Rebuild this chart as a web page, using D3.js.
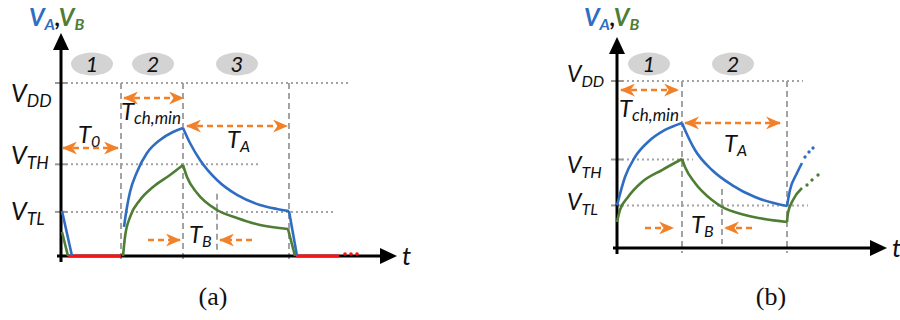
<!DOCTYPE html>
<html><head><meta charset="utf-8">
<script src="https://cdn.jsdelivr.net/npm/d3@7"></script>
<style>body{margin:0;background:#fff}svg{display:block}</style>
</head><body><svg id="c" width="900" height="320"></svg>
<script>
// ---------- data (time in arbitrary units, voltage normalised to VDD = 1) ----------
const levelNames = ["DD", "TH", "TL"];
const levelValues = [1, 0.53, 0.255];
const phaseLabelsA = ["1", "2", "3"];
const phaseTimesA = [3.1, 9.2, 17.6];
const phaseLabelsB = ["1", "2"];
const phaseTimesB = [3.2, 11.6];
const boundariesA = [6.0, 12.2, 22.8];
const boundariesB = [6.5, 17.0];
const tbMarkA = 15.6;
const tbMarkB = 10.5;

// panel (a) curves
const aBlue = [
  [[0.1, 0.26], [1.1, 0]],
  [[6.3, 0.168], [6.6, 0.283], [6.9, 0.370], [7.6, 0.486], [8.6, 0.595], [9.9, 0.671], [11.2, 0.717], [12.2, 0.740]],
  [[12.2, 0.740], [12.9, 0.653], [13.9, 0.555], [15.6, 0.439], [17.6, 0.353], [19.9, 0.295], [21.6, 0.272], [22.8, 0.260]],
  [[22.8, 0.26], [23.6, 0]]
];
const aGreen = [
  [[0.1, 0.139], [0.7, 0]],
  [[6.2, 0], [6.4, 0.110], [6.9, 0.225], [7.9, 0.324], [9.2, 0.399], [10.9, 0.468], [12.2, 0.526]],
  [[12.2, 0.526], [12.6, 0.457], [13.6, 0.364], [15.6, 0.266], [17.6, 0.220], [19.9, 0.179], [22.7, 0.156]],
  [[22.7, 0.156], [23.4, 0]]
];
const aRed = [
  [[0.7, 0], [6.0, 0]],
  [[23.5, 0], [27.8, 0]]
];
const aRedDots = [28.4, 29.0, 29.6];

// panel (b) curves
const bBlue = [
  [[0, 0.255], [0.8, 0.425], [1.8, 0.545], [3.1, 0.635], [4.8, 0.707], [6.5, 0.749]],
  [[6.5, 0.749], [6.8, 0.707], [7.8, 0.587], [9.5, 0.467], [11.5, 0.377], [13.8, 0.305], [17.0, 0.251]],
  [[17.0, 0.251], [17.3, 0.347], [18.0, 0.449], [18.5, 0.509]]
];
const bBlueDots = [[18.8, 0.545], [19.2, 0.575], [19.6, 0.599]];
const bGreen = [
  [[0, 0.156], [0.3, 0.228], [1.1, 0.305], [2.5, 0.395], [4.5, 0.467], [6.5, 0.533]],
  [[6.5, 0.533], [6.8, 0.485], [7.8, 0.389], [9.5, 0.287], [10.5, 0.246], [12.8, 0.198], [17.0, 0.156]],
  [[17.0, 0.156], [17.1, 0.210], [17.6, 0.287], [18.5, 0.359]]
];
const bGreenDots = [[19.0, 0.377], [19.5, 0.407], [20.1, 0.437]];

// ---------- styles ----------
const BLUE = "#2F6DC3", GREEN = "#4E7D33", ORANGE = "#F28029", RED = "#FF1010";
const GRID = "#A3A3A3", BUBBLE = "#D3D3D3";
const SANS = "Lato, 'Open Sans', sans-serif";

const svg = d3.select("#c");
const lineGen = (x, y) => d3.line().x(d => x(d[0])).y(d => y(d[1])).curve(d3.curveMonotoneX);

function defsArrow() {
  const defs = svg.append("defs");
  defs.append("marker").attr("id", "oarr").attr("viewBox", "0 0 15 13")
    .attr("refX", 14).attr("refY", 6.5).attr("markerWidth", 15).attr("markerHeight", 13)
    .attr("markerUnits", "userSpaceOnUse").attr("orient", "auto-start-reverse")
    .append("path").attr("d", "M0,0 L15,6.5 L0,13 L4.5,6.5 Z").attr("fill", ORANGE);
}
defsArrow();

function label(g, x, y, main, sub, o) {
  const t = g.append("text").attr("x", x).attr("y", y)
    .attr("font-family", o.family || SANS).attr("font-style", o.style || "italic")
    .attr("font-weight", o.weight || "normal").attr("font-size", o.size).attr("fill", o.color || "#111");
  t.append("tspan").text(main);
  if (sub) t.append("tspan").attr("font-size", o.subSize).attr("dy", o.subDy).text(sub);
  return t;
}

function panel(cfg) {
  const g = svg.append("g");
  const x = d3.scaleLinear().domain(cfg.xDomain).range(cfg.xRange);
  const y = d3.scaleLinear().domain([0, 1]).range(cfg.yRange);
  const ln = lineGen(x, y);

  // horizontal level lines (dotted) + ticks
  levelValues.forEach((v, i) => {
    g.append("line").attr("x1", x(0)).attr("x2", x(cfg.levelEnds[i]))
      .attr("y1", y(v)).attr("y2", y(v)).attr("stroke", GRID).attr("stroke-width", 2).attr("stroke-dasharray", "2,3");
    g.append("line").attr("x1", x(0) - 6).attr("x2", x(0) + 6).attr("y1", y(v)).attr("y2", y(v))
      .attr("stroke", "#999").attr("stroke-width", 2);
  });
  // vertical phase boundaries (dashed)
  cfg.bounds.forEach(t => {
    g.append("line").attr("x1", x(t)).attr("x2", x(t)).attr("y1", y(1)).attr("y2", y(0) + 5)
      .attr("stroke", GRID).attr("stroke-width", 2).attr("stroke-dasharray", "6,4");
  });
  g.append("line").attr("x1", x(cfg.tbMark)).attr("x2", x(cfg.tbMark)).attr("y1", y(cfg.tbTop)).attr("y2", y(0) - 4)
    .attr("stroke", GRID).attr("stroke-width", 2).attr("stroke-dasharray", "6,4");

  // phase bubbles
  cfg.phases.forEach((p, i) => {
    const cx = x(cfg.phaseTimes[i]), cy = cfg.bubbleY;
    g.append("ellipse").attr("cx", cx).attr("cy", cy).attr("rx", 21).attr("ry", 11.5).attr("fill", BUBBLE);
    g.append("text").attr("x", cx).attr("y", cy + 7.5).attr("text-anchor", "middle")
      .attr("font-family", SANS).attr("font-style", "italic").attr("font-size", 22).attr("fill", "#111").text(p);
  });

  // axes
  const x0 = x(0), y0 = y(0);
  g.append("line").attr("x1", x0).attr("x2", x0).attr("y1", y0 + 6).attr("y2", cfg.yTip + 14)
    .attr("stroke", "#000").attr("stroke-width", 3);
  g.append("path").attr("d", `M${x0},${cfg.yTip} L${x0 - 8},${cfg.yTip + 17} L${x0 + 8},${cfg.yTip + 17} Z`).attr("fill", "#000");
  g.append("line").attr("x1", x0 - 4).attr("x2", cfg.xTip - 14).attr("y1", y0).attr("y2", y0)
    .attr("stroke", "#000").attr("stroke-width", 3);
  g.append("path").attr("d", `M${cfg.xTip},${y0} L${cfg.xTip - 17},${y0 - 8} L${cfg.xTip - 17},${y0 + 8} Z`).attr("fill", "#000");
  label(g, cfg.xTip + 5, y0 + 9, "t", null, { size: 26 });

  // curves
  (cfg.red || []).forEach(s => g.append("path").attr("d", ln(s)).attr("fill", "none").attr("stroke", RED).attr("stroke-width", 3.2));
  (cfg.redDots || []).forEach(t => g.append("circle").attr("cx", x(t)).attr("cy", y(0) - 2).attr("r", 1.8).attr("fill", RED));
  cfg.blue.forEach(s => g.append("path").attr("d", ln(s)).attr("fill", "none").attr("stroke", BLUE).attr("stroke-width", 2.6));
  cfg.green.forEach(s => g.append("path").attr("d", ln(s)).attr("fill", "none").attr("stroke", GREEN).attr("stroke-width", 2.6));
  (cfg.blueDots || []).forEach(d => g.append("circle").attr("cx", x(d[0])).attr("cy", y(d[1])).attr("r", 1.7).attr("fill", BLUE));
  (cfg.greenDots || []).forEach(d => g.append("circle").attr("cx", x(d[0])).attr("cy", y(d[1])).attr("r", 1.7).attr("fill", GREEN));

  // orange arrows
  cfg.arrows.forEach(a => {
    g.append("line").attr("x1", x(a[0])).attr("x2", x(a[1])).attr("y1", y(a[2])).attr("y2", y(a[2]))
      .attr("stroke", ORANGE).attr("stroke-width", 2.5).attr("stroke-dasharray", "6,4")
      .attr("marker-end", "url(#oarr)").attr("marker-start", a[3] ? "url(#oarr)" : null);
  });

  // level labels
  levelNames.forEach((n, i) => {
    label(g, cfg.levelLabelX, cfg.levelLabelY[i], "V", n, { size: cfg.vSize, subSize: cfg.vSize * 0.7, subDy: 5 });
  });
  // time labels
  cfg.tLabels.forEach(l => label(g, l[0], l[1], "T", l[2], { size: 24, subSize: l[2].length > 1 ? 17 : 16, subDy: 4 }));

  // title VA,VB
  const tt = g.append("text").attr("x", cfg.titleX).attr("y", 26).attr("font-family", SANS)
    .attr("font-style", "italic").attr("font-weight", "bold").attr("font-size", 24);
  tt.append("tspan").attr("fill", BLUE).text("V");
  tt.append("tspan").attr("fill", BLUE).attr("font-size", 16).attr("dy", 4).text("A");
  tt.append("tspan").attr("fill", "#111").attr("dy", -4).text(",");
  tt.append("tspan").attr("fill", GREEN).text("V");
  tt.append("tspan").attr("fill", GREEN).attr("font-size", 16).attr("dy", 4).text("B");

  // panel caption
  g.append("text").attr("x", cfg.capX).attr("y", 305).attr("text-anchor", "middle")
    .attr("font-family", "'Liberation Serif', 'Times New Roman', serif").attr("font-size", 26).attr("fill", "#111").text(cfg.cap);
}

panel({
  xDomain: [0, 34], xRange: [61, 401], yRange: [256, 83],
  levelEnds: [28.7, 19.7, 27.2], bounds: boundariesA, tbMark: tbMarkA, tbTop: 0.36,
  phases: phaseLabelsA, phaseTimes: phaseTimesA, bubbleY: 64,
  blue: aBlue, green: aGreen, red: aRed, redDots: aRedDots,
  yTip: 33, xTip: 397,
  arrows: [[0.2, 5.7, 0.624, true], [6.3, 12.2, 0.913, true], [12.6, 22.6, 0.751, true],
           [8.7, 11.9, 0.092, false], [19.1, 15.9, 0.092, false]],
  levelLabelX: 11, levelLabelY: [102, 164, 220], vSize: 25,
  tLabels: [[78, 143, "0"], [121, 120, "ch,min"], [227, 148, "A"], [189, 243, "B"]],
  titleX: 29, cap: "(a)", capX: 213
});

panel({
  xDomain: [0, 27], xRange: [617, 887], yRange: [248, 81],
  levelEnds: [18.6, 7.6, 19.1], bounds: boundariesB, tbMark: tbMarkB, tbTop: 0.353,
  phases: phaseLabelsB, phaseTimes: phaseTimesB, bubbleY: 64,
  blue: bBlue, green: bGreen, blueDots: bBlueDots, greenDots: bGreenDots,
  yTip: 37, xTip: 887,
  arrows: [[0.4, 6.1, 0.946, true], [6.8, 16.3, 0.749, true],
           [2.8, 5.6, 0.120, false], [13.5, 10.8, 0.120, false]],
  levelLabelX: 567, levelLabelY: [82, 173, 210], vSize: 23,
  tLabels: [[619, 117, "ch,min"], [724, 152, "A"], [691, 233, "B"]],
  titleX: 584, cap: "(b)", capX: 771
});
</script></body></html>
